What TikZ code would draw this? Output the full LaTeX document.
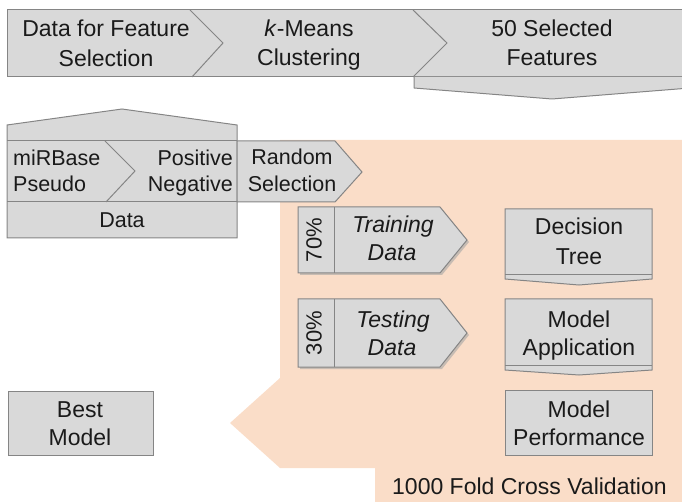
\documentclass[tikz,border=0pt]{standalone}
\usepackage{fontspec}
\setmainfont{Liberation Sans}
\definecolor{boxfill}{HTML}{D9D9D9}
\definecolor{boxline}{HTML}{858585}
\definecolor{peach}{HTML}{FADDC8}
\definecolor{ink}{HTML}{1A1A1A}
\begin{document}
\begin{tikzpicture}[x=1pt,y=-1pt,
  shp/.style={fill=boxfill, draw=boxline, line width=1pt, line join=miter},
  edge/.style={draw=boxline, line width=1pt},
  shadowed/.style={fill=black!35, opacity=0.6},
  txt/.style={font=\fontsize{23}{28}\selectfont, text=ink, inner sep=0pt, anchor=base},
  txts/.style={txt, font=\fontsize{21.5}{26}\selectfont},
  itx/.style={txt, font=\fontsize{23}{28}\selectfont\itshape},
  pct/.style={font=\fontsize{22}{26}\selectfont, text=ink, inner sep=0pt, anchor=center, rotate=90}]
\useasboundingbox (0,0) rectangle (682,502);
\begin{scope}
\clip (0,0) rectangle (682,502);
% peach cross-validation region
\fill[peach] (280,140) -- (682,140) -- (682,502) -- (375,502) -- (375,468)
  -- (280,468) -- (230,423) -- (280,378) -- cycle;

% top bar
\fill[boxfill] (7,10) rectangle (690,77);
\draw[edge] (690,10) -- (7,10) -- (7,77) -- (690,77);
\draw[edge] (190,10) -- (223,43) -- (192,77);
\draw[edge] (413,10) -- (447,43) -- (413,77);
\draw[shp] (414,77) -- (414,88) -- (552,99) -- (690,88) -- (690,77);

% data block (house)
\draw[shp] (7,125) -- (122,109) -- (237,125) -- (237,238) -- (7,238) -- cycle;
\draw[edge] (7,141) -- (237,141);
\draw[edge] (7,202) -- (237,202);
\draw[edge] (105,141) -- (135,171) -- (106,202);

% random selection
\draw[shp] (237,141) -- (335,141) -- (362,172) -- (335,202) -- (237,202) -- cycle;

% training / testing
\fill[shadowed] (300,209) -- (442,209) -- (469,242) -- (442,275) -- (300,275) -- cycle;
\draw[shp] (298,207) -- (440,207) -- (467,240) -- (440,273) -- (298,273) -- cycle;
\draw[edge] (334,207) -- (334,273);
\fill[shadowed] (300,301) -- (442,301) -- (469,335) -- (442,369) -- (300,369) -- cycle;
\draw[shp] (298,299) -- (440,299) -- (467,333) -- (440,367) -- (298,367) -- cycle;
\draw[edge] (334,299) -- (334,367);

% right column
\draw[shp] (505,209) -- (652,209) -- (652,279) -- (579,285) -- (505,279) -- cycle;
\draw[edge] (505,275) -- (652,275);
\draw[shp] (505,299) -- (652,299) -- (652,370) -- (579,375) -- (505,370) -- cycle;
\draw[edge] (505,365) -- (652,365);
\draw[shp] (505,390) rectangle (652,455);

% best model
\draw[shp] (8,391) rectangle (153,455);
\end{scope}

% texts
\node[txt] (t1a) at (106,37) {Data for Feature};
\node[txt] (t1b) at (106,67) {Selection};
\node[txt] (t2a) at (309,37) {\textit{k}-Means};
\node[txt] (t2b) at (309,66) {Clustering};
\node[txt] (t3a) at (552,37) {50 Selected};
\node[txt] (t3b) at (552,66) {Features};

\node[txts, anchor=base west] (mir) at (13,166) {miRBase};
\node[txts, anchor=base west] (pse) at (13,192) {Pseudo};
\node[txts, anchor=base east] (pos) at (233,166) {Positive};
\node[txts, anchor=base east] (neg) at (233,192) {Negative};
\node[txts] (dat) at (122,228) {Data};
\node[txts] (rnd) at (292,165) {Random};
\node[txts] (sel) at (292,192) {Selection};

\node[pct] (p70) at (314,240) {70\%};
\node[itx] (tra) at (393,233) {Training};
\node[itx] (trd) at (392,261) {Data};
\node[pct] (p30) at (314,333) {30\%};
\node[itx] (tes) at (393,327) {Testing};
\node[itx] (ted) at (392,355) {Data};

\node[txt] (dta) at (579,235) {Decision};
\node[txt] (dtb) at (579,265) {Tree};
\node[txt] (maa) at (579,327) {Model};
\node[txt] (mab) at (579,355) {Application};
\node[txt] (mpa) at (579,417) {Model};
\node[txt] (mpb) at (579,445) {Performance};
\node[txt] (bma) at (80,417) {Best};
\node[txt] (bmb) at (80,445) {Model};

\node[txt, anchor=base west] (cv) at (392,494) {1000 Fold Cross Validation};
\end{tikzpicture}
\end{document}
